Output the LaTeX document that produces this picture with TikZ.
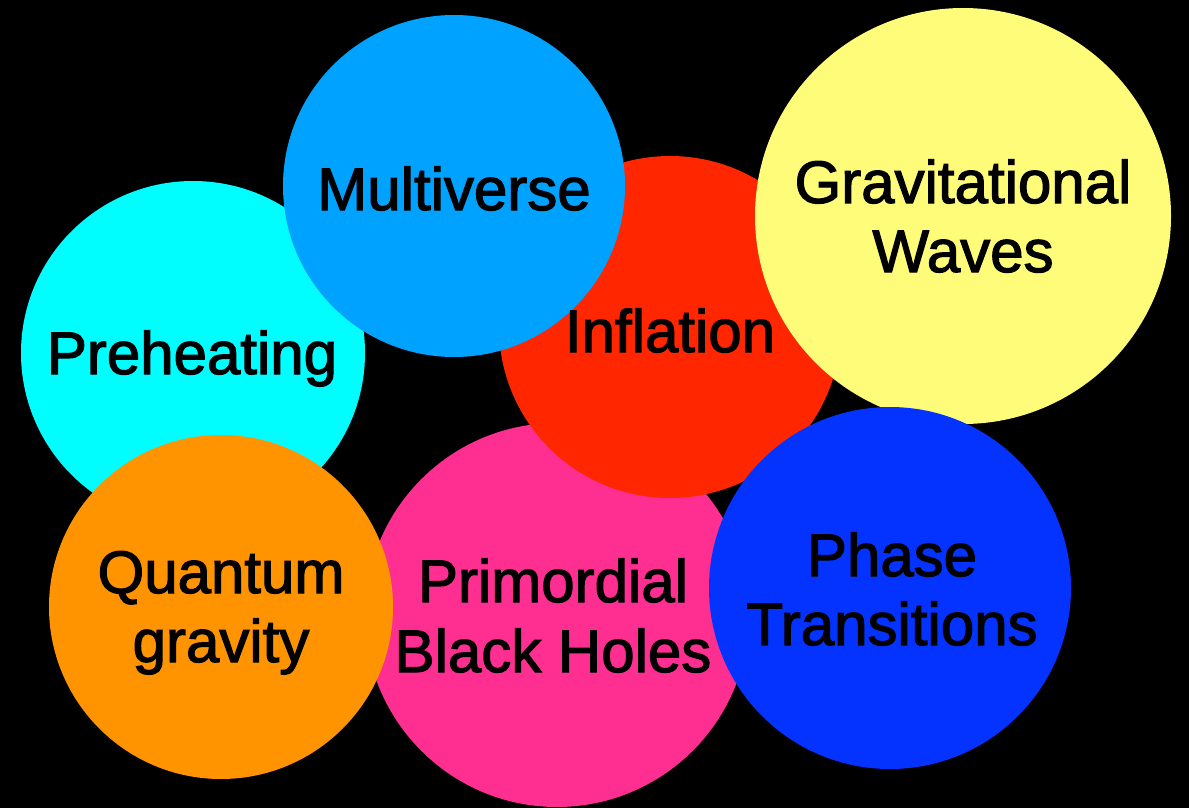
\documentclass[tikz,border=0pt]{standalone}
\usepackage{fontspec}
\setmainfont{Liberation Sans}
\newfontfamily\lblfont{Liberation Sans}[FakeBold=2]
\definecolor{cTurq}{HTML}{00FDFF}
\definecolor{cAqua}{HTML}{00A2FF}
\definecolor{cRed}{HTML}{FF2600}
\definecolor{cBanana}{HTML}{FFFC79}
\definecolor{cTang}{HTML}{FF9300}
\definecolor{cPink}{HTML}{FF2F92}
\definecolor{cBlue}{HTML}{0433FF}
\tikzset{
  bubble/.style={circle, inner sep=0pt, draw=none, minimum size=#1},
  lbl/.style={anchor=base, inner sep=0pt, text=black, font=\lblfont\fontsize{60}{70}\selectfont}
}
\begin{document}
\begin{tikzpicture}[x=1pt, y=-1pt]
\fill[black] (0,0) rectangle (1189,808);
\useasboundingbox (0,0) rectangle (1189,808);
% circles in stacking order
\node[bubble=344pt, fill=cTurq] (pre) at (193,353) {};
\node[bubble=384pt, fill=cPink] (pbh) at (557,615) {};
\node[bubble=342pt, fill=cRed] (inf) at (670,327) {};
\node[bubble=342pt, fill=cAqua] (mul) at (454,186) {};
\node[bubble=416pt, fill=cBanana] (gw) at (963,216) {};
\node[bubble=344pt, fill=cTang] (qg) at (221,607) {};
\node[bubble=362pt, fill=cBlue] (pt) at (890,588) {};
% labels
\node[lbl] (preL) at (192,374) {Preheating};
\node[lbl] (mulL) at (454,210) {Multiverse};
\node[lbl] (infL) at (670,352) {Inflation};
\node[lbl] (gwA) at (963,203) {Gravitational};
\node[lbl] (gwB) at (963,272) {Waves};
\node[lbl] (qgA) at (221,593) {Quantum};
\node[lbl] (qgB) at (221,662) {gravity};
\node[lbl] (pbhA) at (553,602) {Primordial};
\node[lbl] (pbhB) at (553,672) {Black Holes};
\node[lbl] (ptA) at (892,576) {Phase};
\node[lbl] (ptB) at (892,645) {Transitions};
\end{tikzpicture}
\end{document}
